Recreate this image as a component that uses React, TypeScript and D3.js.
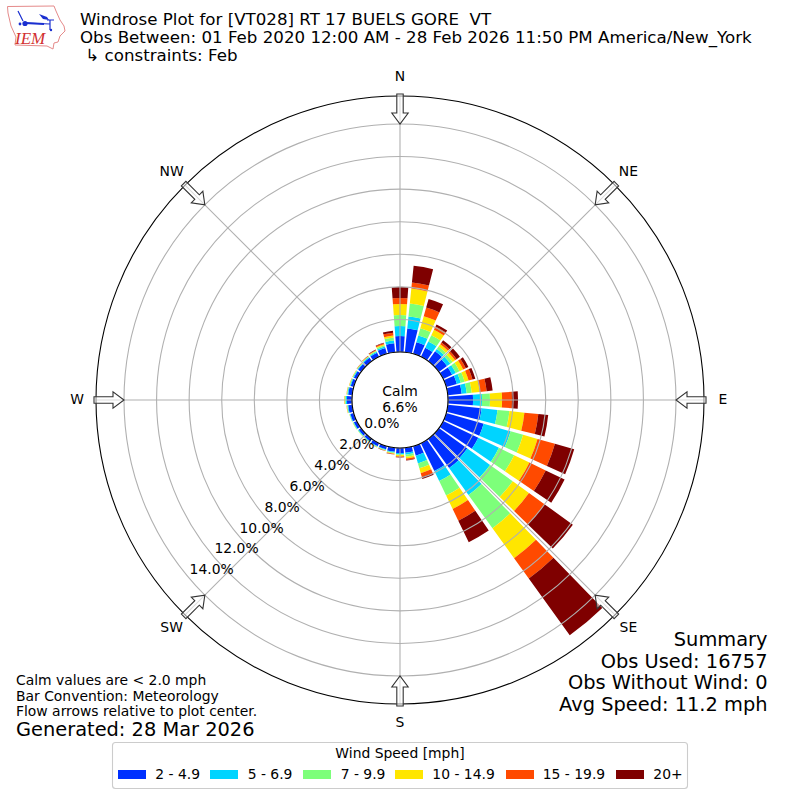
import React from "react";
import * as d3 from "d3";

const directions = d3.range(0, 360, 10);
const speedLabels = ["2 - 4.9", "5 - 6.9", "7 - 9.9", "10 - 14.9", "15 - 19.9", "20+"];
const speedColors = ["#0030ff", "#00d4ff", "#7dff7a", "#ffe600", "#ff4a00", "#7f0000"];
const speed2to5 = [0.98,1.47,0.74,0.61,0.74,0.61,0.61,0.68,0.86,1.54,2.09,2.39,2.39,2.15,2.21,1.90,0.61,0.31,0.31,0.25,0.20,0.20,0.18,0.18,0.20,0.22,0.25,0.31,0.25,0.20,0.20,0.22,0.25,0.28,0.37,0.55];
const speed5to7 = [0.61,0.74,0.43,0.43,0.18,0.25,0.25,0.25,0.31,0.55,0.98,1.72,1.41,1.72,2.03,0.68,0.49,0.12,0.09,0.05,0.04,0.04,0.04,0.04,0.04,0.04,0.05,0.08,0.05,0.05,0.05,0.05,0.06,0.06,0.09,0.18];
const speed7to10 = [0.68,0.80,0.46,0.43,0.18,0.18,0.25,0.25,0.31,0.49,0.74,0.80,1.04,1.72,2.52,0.98,0.31,0.12,0.03,0.04,0.03,0.03,0.02,0.03,0.03,0.02,0.03,0.05,0.03,0.03,0.03,0.03,0.03,0.06,0.09,0.18];
const speed10to15 = [0.68,0.92,0.77,0.37,0.18,0.18,0.25,0.25,0.49,0.74,0.92,0.92,1.04,1.23,2.27,0.92,0.31,0.12,0.09,0.04,0.02,0.02,0.01,0.01,0.01,0.01,0.02,0.03,0.02,0.02,0.02,0.02,0.03,0.03,0.06,0.12];
const speed15to20 = [0.37,0.37,0.55,0.22,0.12,0.12,0.18,0.25,0.43,0.61,0.86,1.11,1.11,1.17,1.54,0.80,0.25,0.09,0.03,0.03,0.01,0.01,0.01,0.00,0.00,0.00,0.01,0.01,0.01,0.01,0.01,0.01,0.02,0.03,0.06,0.18];
const speed20plus = [0.68,1.04,0.55,0.15,0.18,0.25,0.18,0.18,0.37,0.37,0.61,1.23,1.29,2.15,4.30,1.47,0.12,0.03,0.03,0.01,0.01,0.00,0.00,0.00,0.00,0.00,0.00,0.00,0.00,0.00,0.00,0.01,0.01,0.03,0.03,0.12];
const speedSeries = [speed2to5, speed5to7, speed7to10, speed10to15, speed15to20, speed20plus];
const radialTicks = [0, 2, 4, 6, 8, 10, 12, 14];
const compass = [["N",0],["NE",45],["E",90],["SE",135],["S",180],["SW",225],["W",270],["NW",315]] as [string, number][];
const titleLines = ["Windrose Plot for [VT028] RT 17 BUELS GORE  VT", "Obs Between: 01 Feb 2020 12:00 AM - 28 Feb 2026 11:50 PM America/New_York", " ↳ constraints: Feb"];
const summaryLines = ["Summary", "Obs Used: 16757", "Obs Without Wind: 0", "Avg Speed: 11.2 mph"];
const noteLines = ["Calm values are < 2.0 mph", "Bar Convention: Meteorology", "Flow arrows relative to plot center."];

const FONT = "'DejaVu Sans', sans-serif";
const cx = 400, cy = 400;
const R0 = 48, R1 = 304;
const r = d3.scaleLinear().domain([0, 14]).range([R0, 276]);
const rad = (deg: number) => (deg * Math.PI) / 180;
const px = (deg: number, rr: number) => r2(deg, rr)[0];
const py = (deg: number, rr: number) => r2(deg, rr)[1];
function r2(deg: number, rr: number) { return [cx + rr * Math.sin(rad(deg)), cy - rr * Math.cos(rad(deg))]; }

function Arrow({ deg }: { deg: number }) {
  const shape: [number, number][] = [[R1 + 2, -3.2], [R1 + 2, 3.2], [R1 - 17, 3.2], [R1 - 17, 8.2], [R1 - 28, 0], [R1 - 17, -8.2], [R1 - 17, -3.2]];
  const pts = shape.map(([al, ac]) => {
    const [x, y] = r2(deg, al);
    return [x + ac * Math.cos(rad(deg)), y + ac * Math.sin(rad(deg))].join(",");
  }).join(" ");
  return <polygon points={pts} fill="#ffffff" fillOpacity={0.55} stroke="#333333" strokeWidth={1.1} />;
}

export default function App() {
  const stacks = d3.stack<number>()
    .keys(d3.range(speedSeries.length) as any)
    .value((i: number, k: any) => speedSeries[k][i])(d3.range(directions.length) as any);
  const arc = d3.arc();
  const half = 4.2;

  const legendX = [118, 210, 303, 395, 506, 616];
  const legendTextX = [155.3, 247.7, 340.7, 432.3, 542.7, 653.3];

  return (
    <svg width={800} height={800} viewBox="0 0 800 800"
      style={{ position: "absolute", left: 0, top: 0, fontFamily: FONT }}>
      <rect width={800} height={800} fill="#fff" />
      {/* logo */}
      <g>
        <path d="M7.5,6.5 L54,6 L56,11 L60,20 L64,26 L65,31 L60,36 L58,42 L54,43 L53,49 L47,46 L15,45 L16,37 L11,26 L8,13 Z" fill="none" stroke="#e58a8a" strokeWidth={1} />
        <path d="M25,23 L50,24 M47,20 L54,20 M50,20 L50,30 M18,11 L21,17 L23,21" stroke="#1a2fd0" strokeWidth={1.2} fill="none" />
        <path d="M25,23 L44,24" stroke="#1a2fd0" strokeWidth={2} fill="none" />
        <circle cx={25} cy={23.5} r={2.6} fill="#1a2fd0" />
        <path d="M39,14 L47,17 L49,20 L43,19 Z" fill="#1a2fd0" />
        <circle cx={20} cy={24} r={1.4} fill="#1a2fd0" />
        <circle cx={51} cy={30} r={1.2} fill="#1a2fd0" />
        <text x={15} y={44} fontFamily="'Liberation Serif', serif" fontStyle="italic" fontSize={17} fill="#d23030">IEM</text>
      </g>
      {/* title */}
      {titleLines.map((t, i) => (
        <text key={i} x={80} y={[25, 43, 61][i]} fontSize={16.67} fill="#000" xmlSpace="preserve">{t}</text>
      ))}
      {/* polar axes */}
      <circle cx={cx} cy={cy} r={R1} fill="#fff" />
      {stacks.map((s, k) => (
        <g key={k}>
          {s.map((d, i) => (
            <path key={i} transform={`translate(${cx},${cy})`} fill={speedColors[k]}
              d={arc({
                innerRadius: r(d[0]), outerRadius: r(d[1]),
                startAngle: rad(directions[i] - half), endAngle: rad(directions[i] + half),
              }) as string} />
          ))}
        </g>
      ))}
      {radialTicks.map((t) => (
        <circle key={t} cx={cx} cy={cy} r={r(t)} fill="none" stroke="#b0b0b0" strokeWidth={1.1} />
      ))}
      {compass.map(([, deg]) => (
        <line key={deg} x1={px(deg, R0)} y1={py(deg, R0)} x2={px(deg, R1)} y2={py(deg, R1)} stroke="#b0b0b0" strokeWidth={1.1} />
      ))}
      <circle cx={cx} cy={cy} r={R1} fill="none" stroke="#000" strokeWidth={1.1} />
      <circle cx={cx} cy={cy} r={R0} fill="#fff" stroke="#000" strokeWidth={1.1} />
      {compass.map(([, deg]) => <Arrow key={deg} deg={deg} />)}
      {compass.map(([name, deg]) => (
        <text key={name} x={px(deg, 323)} y={py(deg, 323) + 4} textAnchor="middle" fontSize={13.9}>{name}</text>
      ))}
      {radialTicks.map((t) => (
        <text key={t} x={px(230, r(t)) + 1} y={py(230, r(t)) - 3} fontSize={13.9}>{t.toFixed(1)}%</text>
      ))}
      <text x={400} y={396} textAnchor="middle" fontSize={13.9}>Calm</text>
      <text x={400} y={412} textAnchor="middle" fontSize={13.9}>6.6%</text>
      {/* summary */}
      {summaryLines.map((t, i) => (
        <text key={i} x={767.5} y={646 + i * 21.7} textAnchor="end" fontSize={19.4}>{t}</text>
      ))}
      {noteLines.map((t, i) => (
        <text key={i} x={16} y={685 + i * 15.6} fontSize={13.9}>{t}</text>
      ))}
      <text x={16} y={736} fontSize={19.4}>Generated: 28 Mar 2026</text>
      {/* legend */}
      <rect x={112.5} y={742.5} width={575} height={46} rx={3} fill="#fff" stroke="#cccccc" strokeWidth={1.1} />
      <text x={400} y={758} textAnchor="middle" fontSize={13.9}>Wind Speed [mph]</text>
      {speedLabels.map((l, i) => (
        <g key={l}>
          <rect x={legendX[i]} y={770} width={28} height={9} fill={speedColors[i]} />
          <text x={legendTextX[i]} y={779} fontSize={13.9}>{l}</text>
        </g>
      ))}
    </svg>
  );
}
